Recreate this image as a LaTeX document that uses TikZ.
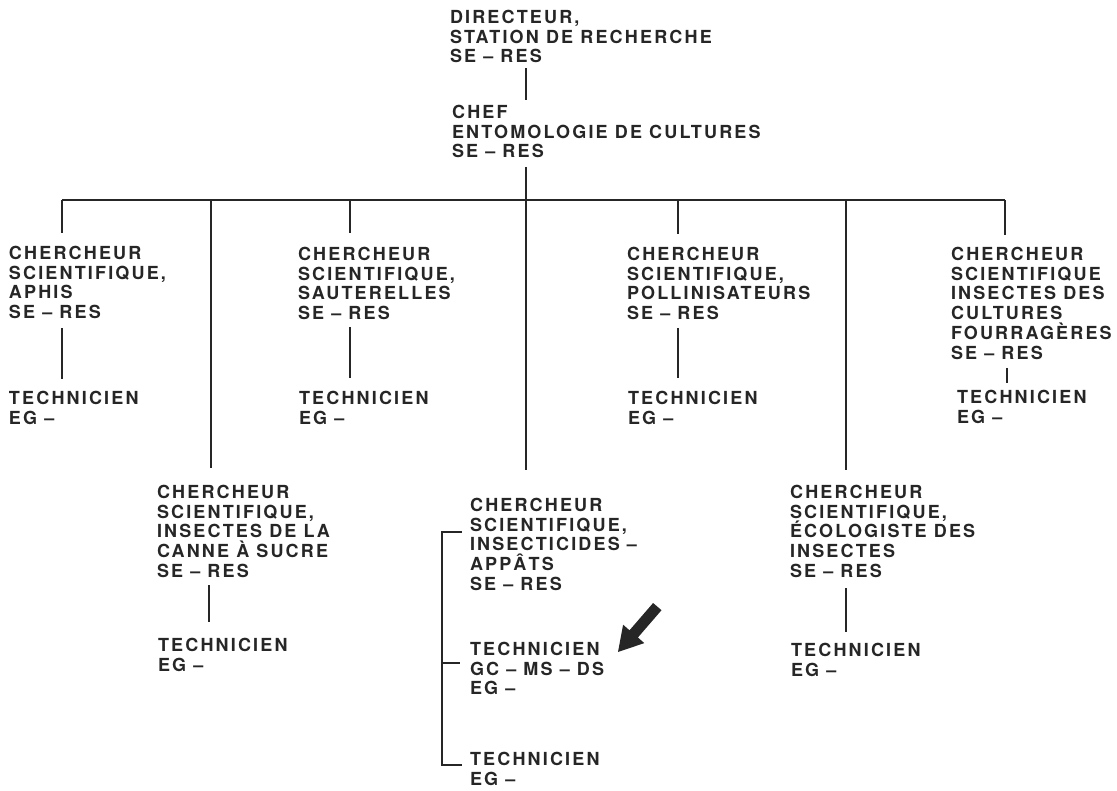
\documentclass[tikz,border=0pt]{standalone}
\usepackage{fontspec}
\newfontfamily\orgfont{TeX Gyre Heros}[LetterSpace=12]
\definecolor{ink}{HTML}{262626}
\tikzset{
  post/.style={anchor=north west, inner sep=0pt, outer sep=0pt, align=left,
    text=ink, font=\orgfont\bfseries\fontsize{18}{19.8}\selectfont},
  link/.style={draw=ink, line width=2pt},
}
\begin{document}
\begin{tikzpicture}[x=1pt,y=-1pt]
\useasboundingbox (0,0) rectangle (1117,791);

% --- top of the hierarchy ---
\node[post] (dir)  at (450,10)  {DIRECTEUR,\\STATION DE RECHERCHE\\SE – RES};
\node[post] (chef) at (452,105) {CHEF\\ENTOMOLOGIE DE CULTURES\\SE – RES};

% --- first row of researchers and their technicians ---
\node[post] (aphis) at (9,246)   {CHERCHEUR\\SCIENTIFIQUE,\\APHIS\\SE – RES};
\node[post] (tA)    at (9,391)   {TECHNICIEN\\EG –};
\node[post] (saut)  at (298,247) {CHERCHEUR\\SCIENTIFIQUE,\\SAUTERELLES\\SE – RES};
\node[post] (tS)    at (299,391) {TECHNICIEN\\EG –};
\node[post] (poll)  at (627,247) {CHERCHEUR\\SCIENTIFIQUE,\\POLLINISATEURS\\SE – RES};
\node[post] (tP)    at (628,391) {TECHNICIEN\\EG –};
\node[post] (four)  at (951,247) {CHERCHEUR\\SCIENTIFIQUE\\INSECTES DES\\CULTURES\\FOURRAGÈRES\\SE – RES};
\node[post] (tF)    at (957,390) {TECHNICIEN\\EG –};

% --- second row ---
\node[post] (canne) at (157,485) {CHERCHEUR\\SCIENTIFIQUE,\\INSECTES DE LA\\CANNE À SUCRE\\SE – RES};
\node[post] (tC)    at (158,638) {TECHNICIEN\\EG –};
\node[post] (insec) at (470,498) {CHERCHEUR\\SCIENTIFIQUE,\\INSECTICIDES –\\APPÂTS\\SE – RES};
\node[post] (tI1)   at (470,642) {TECHNICIEN\\GC – MS – DS\\EG –};
\node[post] (tI2)   at (470,752) {TECHNICIEN\\EG –};
\node[post] (eco)   at (790,485) {CHERCHEUR\\SCIENTIFIQUE,\\ÉCOLOGISTE DES\\INSECTES\\SE – RES};
\node[post] (tE)    at (791,643) {TECHNICIEN\\EG –};

% --- junction points ---
\coordinate (bus) at (526,200);
\coordinate (busL) at (62,200);
\coordinate (busR) at (1005,200);

% director to chief, chief to the bus
\draw[link] (526,68) -- (526,100);
\draw[link] (526,167) -- (bus);
\draw[link] (busL) -- (busR);

% drops from the bus to each researcher
\draw[link] (busL) -- (62,233);
\draw[link] (211,200) -- (211,468);
\draw[link] (350,200) -- (350,233);
\draw[link] (bus) -- (526,470);
\draw[link] (678,200) -- (678,234);
\draw[link] (846,200) -- (846,470);
\draw[link] (busR) -- (1005,235);

% researcher to technician
\draw[link] (62,328) -- (62,379);
\draw[link] (350,327) -- (350,378);
\draw[link] (678,328) -- (678,378);
\draw[link] (1007,368) -- (1007,383);
\draw[link] (209,585) -- (209,622);
\draw[link] (846,588) -- (846,632);

% bracket grouping the insecticide team
\draw[link] (462,532) -- (442,532) -- (442,765) -- (462,765);
\draw[link] (442,663) -- (460,663);

% pointer arrow
\fill[ink] (653.1,603.0) -- (629.5,630.3) -- (623.1,624.7) -- (618,652)
  -- (644.3,643.1) -- (637.9,637.5) -- (661.5,610.2) -- cycle;
\end{tikzpicture}
\end{document}
